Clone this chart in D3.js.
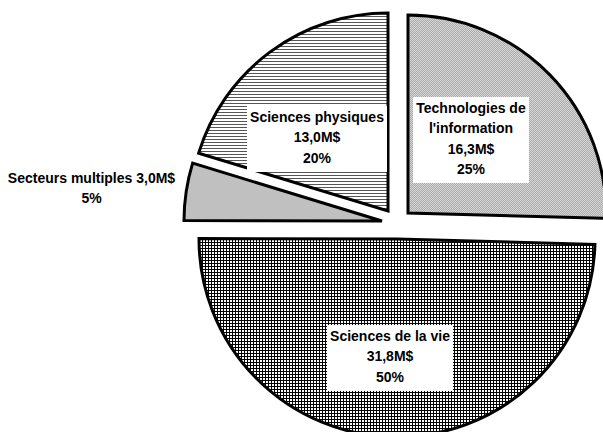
<!DOCTYPE html>
<html><head><meta charset="utf-8">
<script src="https://cdn.jsdelivr.net/npm/d3@7"></script>
<style>body{margin:0;background:#fff}svg{display:block}text{font-family:"Liberation Sans",Arial,sans-serif;font-weight:bold;font-size:14px;fill:#000}</style>
</head><body><div id="chart"></div>
<script>
const categories = ["Technologies de l'information", "Sciences de la vie", "Secteurs multiples", "Sciences physiques"];
const labelLines = [["Technologies de", "l'information"], ["Sciences de la vie"], ["Secteurs multiples"], ["Sciences physiques"]];
const values = [16.3, 31.8, 3.0, 13.0];
const unit = "M$";

const W = 603, H = 432;
const cx = 397.3, cy = 223.5, R = 198, explode = 15.6;
const svg = d3.select("#chart").append("svg").attr("width", W).attr("height", H);
const defs = svg.append("defs");

// patterns
const pTech = defs.append("pattern").attr("id", "pTech").attr("patternUnits", "userSpaceOnUse").attr("width", 2).attr("height", 2);
pTech.append("rect").attr("width", 2).attr("height", 2).attr("fill", "#d6d6d6");
[[0,0],[1,1]].forEach(([x,y]) => pTech.append("rect").attr("x", x).attr("y", y).attr("width", 1).attr("height", 1).attr("fill", "#ababab"));
const pPhys = defs.append("pattern").attr("id", "pPhys").attr("patternUnits", "userSpaceOnUse").attr("width", 3).attr("height", 3);
pPhys.append("rect").attr("width", 3).attr("height", 3).attr("fill", "#fff");
pPhys.append("rect").attr("y", 0).attr("width", 3).attr("height", 1).attr("fill", "#555");
const pVie = defs.append("pattern").attr("id", "pVie").attr("patternUnits", "userSpaceOnUse").attr("width", 3).attr("height", 3);
pVie.append("rect").attr("width", 3).attr("height", 3).attr("fill", "#fff");
pVie.append("rect").attr("width", 3).attr("height", 1).attr("fill", "#000");
pVie.append("rect").attr("width", 1).attr("height", 3).attr("fill", "#000");

const fills = ["url(#pTech)", "url(#pVie)", "#c0c0c0", "url(#pPhys)"];

const total = d3.sum(values);
const pie = d3.pie().sort(null).value(d => d)(values);
const arc = d3.arc().innerRadius(0).outerRadius(R);
const fmt = v => v.toFixed(1).replace(".", ",") + unit;
const pct = v => Math.round(v / total * 100) + "%";

const g = svg.append("g");
pie.forEach((d, i) => {
  const mid = (d.startAngle + d.endAngle) / 2;
  const ox = Math.round(cx + Math.sin(mid) * explode), oy = Math.round(cy - Math.cos(mid) * explode);
  g.append("path").attr("d", arc(d)).attr("transform", `translate(${ox},${oy})`)
    .attr("fill", fills[i]).attr("stroke", "#000").attr("stroke-width", 3).attr("stroke-linejoin", "miter");
});

// label placement (layout)
const labelPos = [
  {x: 471, y: 108, box: true},
  {x: 390, y: 336, box: true},
  {x: 91.5, y: 178, box: false, inline: true},
  {x: 317, y: 117, box: true, padR: 0}
];
const lineGap = 20.3;
const lg = svg.append("g");
pie.forEach((d, i) => {
  const p = labelPos[i];
  let lines;
  if (p.inline) lines = [labelLines[i].join(" ") + " " + fmt(values[i]), pct(values[i])];
  else lines = [...labelLines[i], fmt(values[i]), pct(values[i])];
  const grp = lg.append("g");
  const rect = grp.append("rect").attr("fill", "#fff");
  const t = grp.append("text").attr("text-anchor", "middle");
  lines.forEach((l, k) => t.append("tspan").attr("x", p.x).attr("y", p.y + k * lineGap).attr("dy", "0.35em").text(l));
  if (p.box) {
    const bb = t.node().getBBox();
    rect.attr("x", Math.round(bb.x - 3)).attr("y", Math.round(bb.y - 3)).attr("width", Math.round(bb.width + 6 + (p.padR || 0))).attr("height", Math.round(bb.height + 9));
  } else rect.remove();
});
</script></body></html>
